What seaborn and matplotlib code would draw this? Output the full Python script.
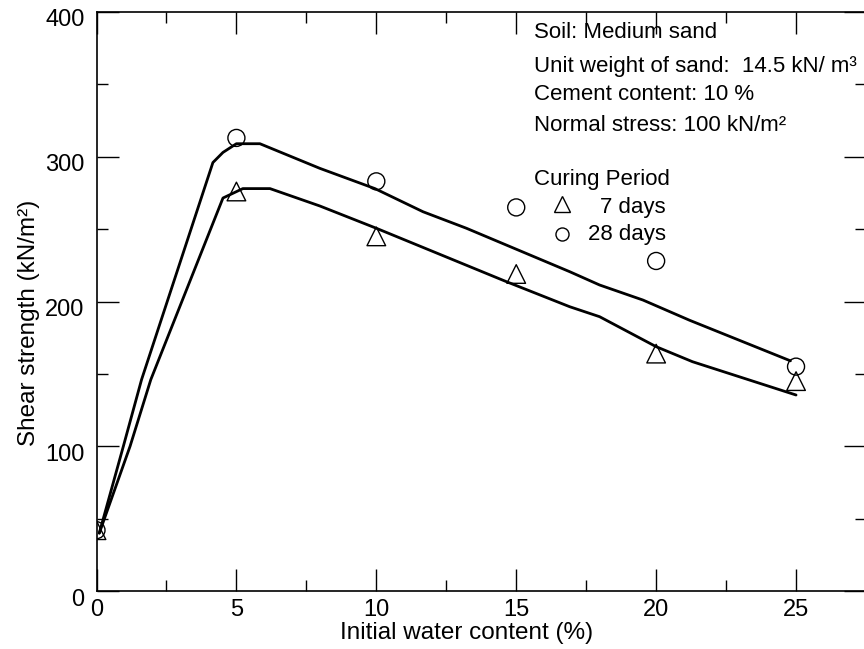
import matplotlib
matplotlib.use("Agg")
import matplotlib.pyplot as plt
import matplotlib.transforms as mtransforms
from matplotlib.ticker import MultipleLocator
import seaborn as sns
import pandas as pd

# Measured shear strength at each initial water content
water_content = [0, 5, 10, 15, 20, 25]
strength_7d = [42, 276, 245, 219, 164, 145]
strength_28d = [42, 313, 283, 265, 228, 155]

# Hand-fitted trend curves
fit28_x = [0.1, 0.96, 1.61, 4.16, 4.52, 5.0, 5.84, 7.98, 9.95, 11.67, 13.22,
           16.91, 17.98, 19.53, 21.2, 24.8]
fit28_y = [40, 100, 146, 296, 303, 309, 309, 292, 278, 262, 250.6,
           220.6, 211.4, 201, 187, 159]
fit7_x = [0.1, 1.2, 1.94, 4.52, 5.23, 6.2, 7.98, 10.0, 14.65, 16.91, 17.98,
          20.0, 21.3, 25.0]
fit7_y = [40, 100, 146, 271.5, 278, 278, 266, 250.6, 213.7, 196.4, 189.5,
          168.8, 158.4, 135.4]

notes = ["Soil: Medium sand",
         "Unit weight of sand:  14.5 kN/ m³",
         "Cement content: 10 %",
         "Normal stress: 100 kN/m²"]
legend_title = "Curing Period"
legend_labels = ["7 days", "28 days"]

sns.set_theme(style="ticks")
plt.rcParams["font.family"] = ["Liberation Sans", "DejaVu Sans"]

W, H = 864, 649
fig = plt.figure(figsize=(W / 100, H / 100), dpi=100)
left, right, top, bottom = 96.5, 866, 12, 591
ax = fig.add_axes([left / W, 1 - bottom / H, (right - left) / W, (bottom - top) / H])

df28 = pd.DataFrame({"x": fit28_x, "y": fit28_y})
df7 = pd.DataFrame({"x": fit7_x, "y": fit7_y})
sns.lineplot(data=df28, x="x", y="y", sort=False, estimator=None, color="black",
             linewidth=2.0, ax=ax)
sns.lineplot(data=df7, x="x", y="y", sort=False, estimator=None, color="black",
             linewidth=2.0, ax=ax)

pts = pd.DataFrame({"w": water_content, "s7": strength_7d, "s28": strength_28d})
sns.scatterplot(data=pts, x="w", y="s7", marker="^", s=180, facecolor="none",
                edgecolor="black", linewidth=1.0, ax=ax, zorder=3)
sns.scatterplot(data=pts, x="w", y="s28", marker="o", s=150, facecolor="none",
                edgecolor="black", linewidth=1.0, ax=ax, zorder=3)

ax.set_xlim(0, 27.5)
ax.set_ylim(0, 400)
ax.xaxis.set_major_locator(MultipleLocator(5))
ax.xaxis.set_minor_locator(MultipleLocator(2.5))
ax.yaxis.set_major_locator(MultipleLocator(100))
ax.yaxis.set_minor_locator(MultipleLocator(50))

for sp in ax.spines.values():
    sp.set_visible(True)
    sp.set_linewidth(1.2)
    sp.set_color("black")

ax.tick_params(which="both", direction="in", top=True, right=True,
               color="black", width=1.0, labelsize=17, labelcolor="black")
ax.tick_params(which="major", length=15.8)
ax.tick_params(which="minor", length=7.9)
ax.tick_params(axis="y", pad=8.6)
ax.tick_params(axis="x", pad=5.5)

shift = mtransforms.ScaledTranslation(0, -6 / 100, fig.dpi_scale_trans)
for lab in ax.get_yticklabels():
    lab.set_transform(lab.get_transform() + shift)

ax.set_xlabel("Initial water content (%)", fontsize=17.5, color="black")
ax.set_ylabel("Shear strength (kN/m²)", fontsize=17.5, color="black")
ax.xaxis.set_label_coords(0.481, -0.054)
ax.yaxis.set_label_coords(-0.073, 0.463)


def fx(px):
    return (px - left) / (right - left)


def fy(py):
    return (bottom - py) / (bottom - top)


for txt, base in zip(notes, [37.7, 71.7, 100, 131]):
    ax.text(fx(534), fy(base), txt, transform=ax.transAxes, fontsize=16,
            ha="left", va="baseline", color="black")

ax.text(fx(534), fy(185), legend_title, transform=ax.transAxes, fontsize=16,
        ha="left", va="baseline", color="black")
ax.text(fx(666), fy(213.3), legend_labels[0], transform=ax.transAxes, fontsize=16,
        ha="right", va="baseline", color="black")
ax.text(fx(666), fy(240), legend_labels[1], transform=ax.transAxes, fontsize=16,
        ha="right", va="baseline", color="black")
ax.plot([fx(562)], [fy(204.4)], marker="^", markersize=11, markerfacecolor="none",
        markeredgecolor="black", markeredgewidth=1.0, linestyle="",
        transform=ax.transAxes)
ax.plot([fx(562)], [fy(233.7)], marker="o", markersize=9.4, markerfacecolor="none",
        markeredgecolor="black", markeredgewidth=1.0, linestyle="",
        transform=ax.transAxes)

fig.savefig("out.png", dpi=100, facecolor="white")
